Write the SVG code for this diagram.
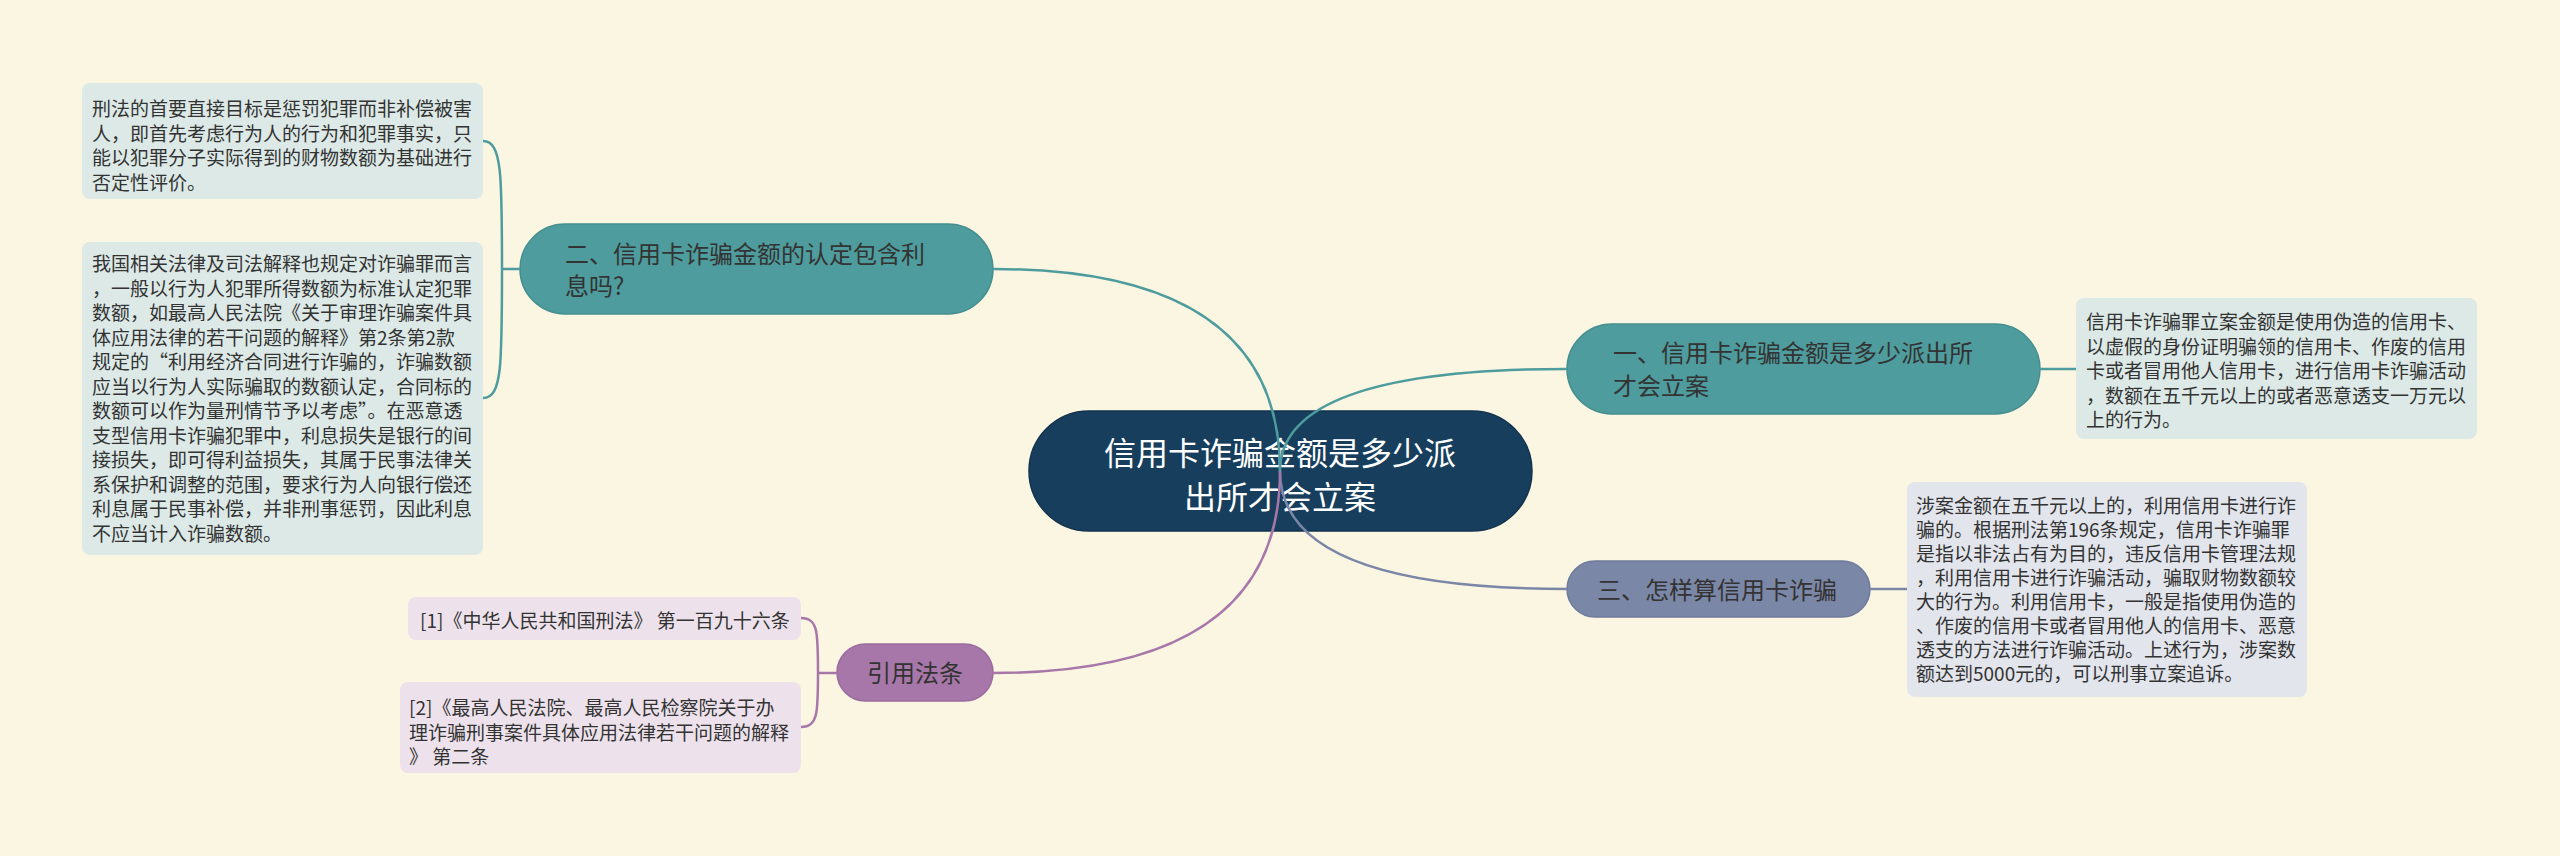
<svg xmlns="http://www.w3.org/2000/svg" width="2560" height="856" viewBox="0 0 2560 856">
<style>
text{font-family:"Noto Sans CJK SC","Noto Sans",sans-serif;fill:#333}
.leaf{font-size:19px}
.fw{font-feature-settings:"fwid" 1}
.mid{font-size:24px}
.root{font-size:32px;fill:#fff}
.c{fill:none;stroke-width:2.5}
.teal{stroke:#4E9C9D}
.blue{stroke:#7B87A7}
.pur{stroke:#A877A9}
</style>
<rect width="2560" height="856" fill="#FBF6E2"/>
<g id="leaf1">
<rect x="82" y="83" width="401" height="116" rx="8" fill="#DCE9E6"/>
<text class="leaf" x="92" y="116">刑法的首要直接目标是惩罚犯罪而非补偿被害</text>
<text class="leaf" x="92" y="140.5">人，即首先考虑行为人的行为和犯罪事实，只</text>
<text class="leaf" x="92" y="165">能以犯罪分子实际得到的财物数额为基础进行</text>
<text class="leaf" x="92" y="189.5">否定性评价。</text>
</g>
<g id="leaf2">
<rect x="82" y="242" width="401" height="313" rx="8" fill="#DCE9E6"/>
<text class="leaf" x="92" y="271">我国相关法律及司法解释也规定对诈骗罪而言</text>
<text class="leaf" x="92" y="295.5">，一般以行为人犯罪所得数额为标准认定犯罪</text>
<text class="leaf" x="92" y="320">数额，如最高人民法院《关于审理诈骗案件具</text>
<text class="leaf" x="92" y="344.5">体应用法律的若干问题的解释》第2条第2款</text>
<text class="leaf fw" x="92" y="369">规定的“利用经济合同进行诈骗的，诈骗数额</text>
<text class="leaf" x="92" y="393.5">应当以行为人实际骗取的数额认定，合同标的</text>
<text class="leaf fw" x="92" y="418">数额可以作为量刑情节予以考虑”。在恶意透</text>
<text class="leaf" x="92" y="442.5">支型信用卡诈骗犯罪中，利息损失是银行的间</text>
<text class="leaf" x="92" y="467">接损失，即可得利益损失，其属于民事法律关</text>
<text class="leaf" x="92" y="491.5">系保护和调整的范围，要求行为人向银行偿还</text>
<text class="leaf" x="92" y="516">利息属于民事补偿，并非刑事惩罚，因此利息</text>
<text class="leaf" x="92" y="540.5">不应当计入诈骗数额。</text>
</g>
<g id="node2">
<rect x="520" y="224" width="473" height="90" rx="45" fill="#4E9C9D" stroke="#458F90" stroke-width="1.5"/>
<text class="mid" x="565" y="263">二、信用卡诈骗金额的认定包含利</text>
<text class="mid" x="565" y="295">息吗?</text>
</g>
<g id="node1">
<rect x="1567" y="324" width="473" height="90" rx="45" fill="#4E9C9D" stroke="#458F90" stroke-width="1.5"/>
<text class="mid" x="1613" y="362">一、信用卡诈骗金额是多少派出所</text>
<text class="mid" x="1613" y="395">才会立案</text>
</g>
<g id="leaf3">
<rect x="2076" y="298" width="401" height="141" rx="8" fill="#DCE9E6"/>
<text class="leaf" x="2086" y="329">信用卡诈骗罪立案金额是使用伪造的信用卡、</text>
<text class="leaf" x="2086" y="353.5">以虚假的身份证明骗领的信用卡、作废的信用</text>
<text class="leaf" x="2086" y="378">卡或者冒用他人信用卡，进行信用卡诈骗活动</text>
<text class="leaf" x="2086" y="402.5">，数额在五千元以上的或者恶意透支一万元以</text>
<text class="leaf" x="2086" y="427">上的行为。</text>
</g>
<g id="node3">
<rect x="1567" y="561" width="303" height="56" rx="28" fill="#7B87A7" stroke="#6F7B9C" stroke-width="1.5"/>
<text class="mid" x="1597" y="599">三、怎样算信用卡诈骗</text>
</g>
<g id="leaf4">
<rect x="1907" y="482" width="400" height="215" rx="8" fill="#E2E5EC"/>
<text class="leaf" x="1916" y="513">涉案金额在五千元以上的，利用信用卡进行诈</text>
<text class="leaf" x="1916" y="537">骗的。根据刑法第196条规定，信用卡诈骗罪</text>
<text class="leaf" x="1916" y="561">是指以非法占有为目的，违反信用卡管理法规</text>
<text class="leaf" x="1916" y="585">，利用信用卡进行诈骗活动，骗取财物数额较</text>
<text class="leaf" x="1916" y="609">大的行为。利用信用卡，一般是指使用伪造的</text>
<text class="leaf" x="1916" y="633">、作废的信用卡或者冒用他人的信用卡、恶意</text>
<text class="leaf" x="1916" y="657">透支的方法进行诈骗活动。上述行为，涉案数</text>
<text class="leaf" x="1916" y="681">额达到5000元的，可以刑事立案追诉。</text>
</g>
<g id="node4">
<rect x="837" y="644" width="156" height="57" rx="28.5" fill="#A877A9" stroke="#9C6C9D" stroke-width="1.5"/>
<text class="mid" x="915" y="682" text-anchor="middle">引用法条</text>
</g>
<g id="leaf5">
<rect x="408" y="597" width="393" height="43" rx="8" fill="#EDE2EC"/>
<text class="leaf" x="420" y="628">[1]《中华人民共和国刑法》 第一百九十六条</text>
</g>
<g id="leaf6">
<rect x="400" y="682" width="401" height="91" rx="8" fill="#EDE2EC"/>
<text class="leaf" x="409" y="715">[2]《最高人民法院、最高人民检察院关于办</text>
<text class="leaf" x="409" y="740">理诈骗刑事案件具体应用法律若干问题的解释</text>
<text class="leaf" x="409" y="764">》 第二条</text>
</g>
<g id="root">
<rect x="1029" y="411" width="503" height="120" rx="60" fill="#173E5D" stroke="#12324D" stroke-width="1.5"/>
<text class="root" x="1280" y="465" text-anchor="middle">信用卡诈骗金额是多少派</text>
<text class="root" x="1280" y="509" text-anchor="middle">出所才会立案</text>
</g>
<g id="connectors">
<path class="c teal" d="M993,269 Q1280,269 1280,471"/>
<path class="c teal" d="M1280,471 Q1280,369 1567,369"/>
<path class="c blue" d="M1280,471 Q1280,589 1567,589"/>
<path class="c pur" d="M1280,471 Q1280,673 993,673"/>
<path class="c teal" d="M520,269 L502,269 M502,269 C502,175 502,141 483,141 M502,269 C502,365 502,398 483,398"/>
<path class="c teal" d="M2040,369 L2076,369"/>
<path class="c blue" d="M1870,589 L1907,589"/>
<path class="c pur" d="M837,673 L818,673 M818,673 C818,632 818,618 801,618 M818,673 C818,712 818,727 801,727"/>
</g>
</svg>
